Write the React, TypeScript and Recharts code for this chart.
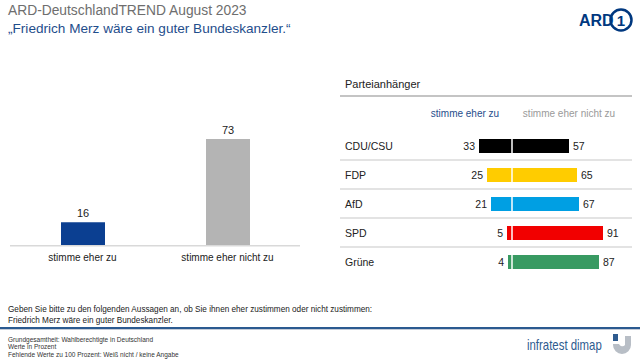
import React from 'react';
import { BarChart, Bar, XAxis, YAxis, Cell, LabelList, ReferenceLine } from 'recharts';

// Gesamt
const totalCategories = ['stimme eher zu', 'stimme eher nicht zu'];
const totalValues = [16, 73];
const totalColors = ['#0b3f91', '#b4b4b4'];

// Parteianhänger
const parties = ['CDU/CSU', 'FDP', 'AfD', 'SPD', 'Grüne'];
const zuValues = [33, 25, 21, 5, 4];
const nichtZuValues = [57, 65, 67, 91, 87];
const partyColors = ['#000000', '#ffcc00', '#009fe3', '#f20000', '#389a62'];

const FONT = '"Liberation Sans", Arial, sans-serif';

const totalData = totalCategories.map((c, i) => ({ name: c, value: totalValues[i] }));
const partyData = parties.map((p, i) => ({
  party: p,
  zu: zuValues[i],
  zuNeg: -zuValues[i],
  nicht: nichtZuValues[i],
}));

const PartyTick = (props: any) => {
  const { y, payload, index } = props;
  return (
    <g>
      <text x={15} y={y} dy={4} fontSize={10.5} fill="#222" fontFamily={FONT}>
        {payload.value}
      </text>
      {index < parties.length - 1 && (
        <line x1={10} x2={302} y1={y + 14.5} y2={y + 14.5} stroke="#dadada" strokeWidth={1.5} />
      )}
    </g>
  );
};

const LeftValue = (props: any) => {
  const { x, y, width, height, value } = props;
  return (
    <text x={Math.min(x, x + width) - 4} y={y + height / 2} dy={3.5} textAnchor="end" fontSize={10.5} fill="#222" fontFamily={FONT}>
      {value}
    </text>
  );
};

const RightValue = (props: any) => {
  const { x, y, width, height, value } = props;
  return (
    <text x={Math.max(x, x + width) + 4} y={y + height / 2} dy={3.5} textAnchor="start" fontSize={10.5} fill="#222" fontFamily={FONT}>
      {value}
    </text>
  );
};

const App = () => {
  return (
    <div style={{ position: 'absolute', left: 0, top: 0, width: 640, height: 364, background: '#fff', fontFamily: FONT, overflow: 'hidden' }}>
      {/* header */}
      <div style={{ position: 'absolute', left: 8, top: 3, fontSize: 13.8, color: '#6e6e6e' }}>ARD-DeutschlandTREND August 2023</div>
      <div style={{ position: 'absolute', left: 8, top: 21, fontSize: 13.6, color: '#1f4e8c' }}>„Friedrich Merz wäre ein guter Bundeskanzler.“</div>
      <svg style={{ position: 'absolute', left: 575, top: 6 }} width={62} height={28}>
        <text x={4} y={20} fontSize={16} fontWeight="bold" fill="#00387f" fontFamily={FONT}>ARD</text>
        <circle cx={46} cy={14} r={10.5} fill="none" stroke="#00387f" strokeWidth={2.5} />
        <text x={46} y={19.5} textAnchor="middle" fontSize={15} fontWeight="bold" fill="#00387f" fontFamily={FONT}>1</text>
      </svg>

      {/* total chart */}
      <div style={{ position: 'absolute', left: 10, top: 90 }}>
        <BarChart width={290} height={180} data={totalData} margin={{ top: 9.7, right: 0, left: 0, bottom: 0 }}>
          <XAxis
            dataKey="name"
            height={24.3}
            tickLine={false}
            axisLine={{ stroke: '#d9d9d9', strokeWidth: 1.5 }}
            tick={{ fontSize: 10, fill: '#222', fontFamily: FONT }}
          />
          <YAxis hide domain={[0, 100]} />
          <Bar dataKey="value" barSize={44} isAnimationActive={false}>
            {totalData.map((d, i) => (
              <Cell key={d.name} fill={totalColors[i]} />
            ))}
            <LabelList dataKey="value" position="top" offset={5} fontSize={11} fill="#222" fontFamily={FONT} />
          </Bar>
        </BarChart>
      </div>

      {/* party panel */}
      <div style={{ position: 'absolute', left: 345, top: 78, fontSize: 11, color: '#222' }}>Parteianhänger</div>
      <div style={{ position: 'absolute', left: 340, top: 95, width: 292, height: 1.5, background: '#c4c4c4' }} />
      <div style={{ position: 'absolute', left: 415, width: 100, top: 108, fontSize: 10, color: '#1f4e8c', textAlign: 'center' }}>stimme eher zu</div>
      <div style={{ position: 'absolute', left: 509, width: 120, top: 108, fontSize: 10, color: '#9a9a9a', textAlign: 'center' }}>stimme eher nicht zu</div>

      <div style={{ position: 'absolute', left: 330, top: 130.5 }}>
        <BarChart
          width={310}
          height={145}
          data={partyData}
          layout="vertical"
          stackOffset="sign"
          margin={{ top: 0, right: 8, left: 0, bottom: 0 }}
        >
          <XAxis type="number" hide domain={[-62, 120]} />
          <YAxis type="category" dataKey="party" width={120} axisLine={false} tickLine={false} tick={<PartyTick />} />
          <Bar dataKey="zuNeg" stackId="a" barSize={14} isAnimationActive={false}>
            {partyData.map((d, i) => (
              <Cell key={d.party} fill={partyColors[i]} />
            ))}
            <LabelList dataKey="zu" content={<LeftValue />} />
          </Bar>
          <Bar dataKey="nicht" stackId="a" barSize={14} isAnimationActive={false}>
            {partyData.map((d, i) => (
              <Cell key={d.party} fill={partyColors[i]} />
            ))}
            <LabelList dataKey="nicht" content={<RightValue />} />
          </Bar>
          <ReferenceLine x={0} stroke="#ffffff" strokeWidth={1.5} />
        </BarChart>
      </div>

      {/* question + footer */}
      <div style={{ position: 'absolute', left: 8, top: 304, fontSize: 8.2, color: '#222', lineHeight: '11px' }}>
        Geben Sie bitte zu den folgenden Aussagen an, ob Sie ihnen eher zustimmen oder nicht zustimmen:
        <br />
        Friedrich Merz wäre ein guter Bundeskanzler.
      </div>
      <div style={{ position: 'absolute', left: 0, top: 327, width: 640, height: 2, background: '#2b5a90' }} />
      <div style={{ position: 'absolute', left: 0, top: 329, width: 640, height: 1, background: '#c5ccd8' }} />
      <div style={{ position: 'absolute', left: 8, top: 336, fontSize: 6.5, color: '#333', lineHeight: '7.3px' }}>
        Grundgesamtheit: Wahlberechtigte in Deutschland
        <br />
        Werte in Prozent
        <br />
        Fehlende Werte zu 100 Prozent: Weiß nicht / keine Angabe
      </div>
      <div
        style={{
          position: 'absolute',
          left: 527,
          top: 336,
          fontSize: 15,
          color: '#2e5b8f',
          whiteSpace: 'nowrap',
          transform: 'scaleX(0.76)',
          transformOrigin: 'left top',
        }}
      >
        infratest dimap
      </div>
      <svg style={{ position: 'absolute', left: 610, top: 333 }} width={26} height={28}>
        <rect x={3} y={1} width={5} height={7} fill="#2e5b8f" />
        <path d="M12 3 L21 3 L21 12 A9 9 0 0 1 3 12 L3 11 L9 11 A3.5 3.5 0 0 0 15 12 L15 3 Z" fill="#b8bec6" />
      </svg>
    </div>
  );
};

export default App;
